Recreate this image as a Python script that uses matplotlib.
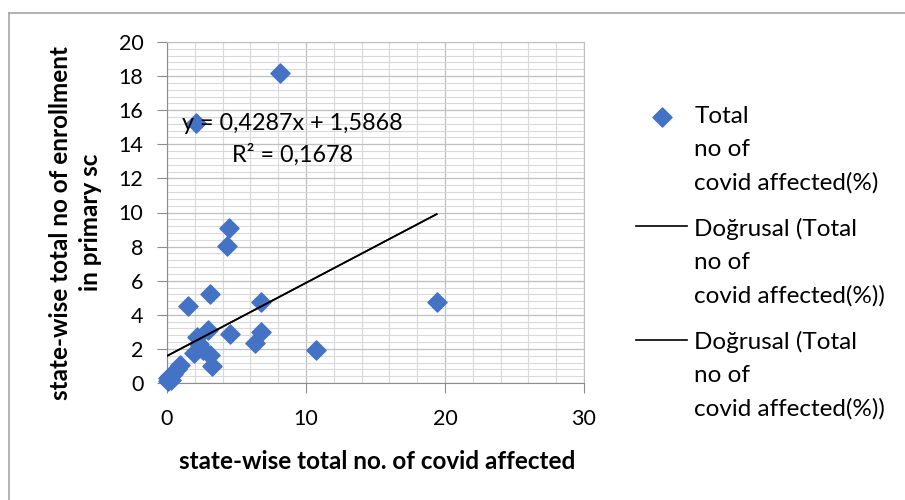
import numpy as np
import matplotlib
matplotlib.use("Agg")
import matplotlib.pyplot as plt
from matplotlib.lines import Line2D
from matplotlib.ticker import MultipleLocator

# state-wise share of covid affected (x) vs enrollment in primary sc (y)
covid_affected = [8.1, 2.06, 4.46, 4.29, 3.09, 1.53, 6.74, 19.4, 4.53, 6.79,
                  6.33, 10.72, 2.97, 2.13, 1.95, 2.6, 3.09, 3.21, 0.94, 0.7,
                  0.45, 0.2, 0.05, 0.1, 0.3, 2.3]
enrollment = [18.2, 15.27, 9.11, 8.04, 5.24, 4.5, 4.75, 4.77, 2.87, 3.01,
              2.33, 1.94, 3.1, 2.68, 1.74, 1.94, 1.64, 0.98, 1.08, 0.8,
              0.55, 0.4, 0.1, 0.3, 0.2, 2.3]

# trendline as reported on the chart
slope = 0.4287
intercept = 1.5868
r_squared = 0.1678

series_label = "Total\nno of\ncovid affected(%)"
trend_label = "Doğrusal (Total\nno of\ncovid affected(%))"

plt.rcParams['font.family'] = ['Lato', 'DejaVu Sans']

fig = plt.figure(figsize=(9.05, 5.0), dpi=100)
ax = fig.add_axes([167 / 905, 117 / 500, 417 / 905, 341 / 500])

x = np.array(covid_affected)
y = np.array(enrollment)

ax.scatter(x, y, marker='D', s=95, color='#4472C4', zorder=3, label=series_label,
           clip_on=False)

xs = np.array([x.min(), x.max()])
ys = slope * xs + intercept
# the source sheet carries the same linear trendline twice
ax.plot(xs, ys, color='black', lw=1.2, zorder=4, label=trend_label)
ax.plot(xs, ys, color='black', lw=1.2, zorder=4, label=trend_label)

ax.set_xlim(0, 30)
ax.set_ylim(0, 20)
ax.xaxis.set_major_locator(MultipleLocator(10))
ax.xaxis.set_minor_locator(MultipleLocator(2))
ax.yaxis.set_major_locator(MultipleLocator(2))
ax.yaxis.set_minor_locator(MultipleLocator(0.4))

ax.grid(which='major', color='#bfbfbf', lw=0.9)
ax.grid(which='minor', color='#d9d9d9', lw=0.8)
ax.set_axisbelow(True)

for side in ['left', 'bottom', 'top', 'right']:
    ax.spines[side].set_color('#bfbfbf')
ax.spines['left'].set_color('#8c8c8c')
ax.spines['bottom'].set_color('#8c8c8c')

ax.tick_params(which='major', length=7, color='#8c8c8c', labelsize=15.5)
ax.tick_params(axis='x', which='major', pad=12)
ax.tick_params(axis='y', which='major', pad=10)
ax.tick_params(which='minor', length=0)

ax.set_xlabel("state-wise total no. of covid affected", fontsize=17.5, fontweight='bold')
ax.xaxis.set_label_coords(0.505, -0.196)
ax.set_ylabel("state-wise total no of enrollment\nin primary sc", fontsize=17.5,
              fontweight='bold', va='center', ha='center', linespacing=1.4)
ax.yaxis.set_label_coords(-0.219, 0.47)

ax.text(0.3, 0.762, f"y = {slope:.4f}x + {intercept:.4f}".replace('.', ','),
        transform=ax.transAxes, ha='center', va='center', fontsize=16.8)
ax.text(0.3, 0.668, f"R² = {r_squared:.4f}".replace('.', ','),
        transform=ax.transAxes, ha='center', va='center', fontsize=16.8)

leg = ax.legend(loc='upper left', bbox_to_anchor=(636 / 905, 1 - 106 / 500),
                bbox_transform=fig.transFigure, frameon=False, fontsize=17.5,
                handlelength=2.1, handletextpad=0.3, labelspacing=1.0,
                borderaxespad=0, borderpad=0)
for t in leg.get_texts():
    t.set_linespacing(1.7)
# keep each legend key level with the first line of its label
for col in leg._legend_handle_box.get_children():
    for row in col.get_children():
        row.align = 'top'

# outer chart border (only top and left edges show)
fig.add_artist(Line2D([9 / 905, 1], [1 - 12.5 / 500] * 2, transform=fig.transFigure,
                      color='#a6a6a6', lw=1.2))
fig.add_artist(Line2D([9 / 905] * 2, [0, 1 - 12.5 / 500], transform=fig.transFigure,
                      color='#a6a6a6', lw=1.2))

fig.savefig("out.png", dpi=100)
